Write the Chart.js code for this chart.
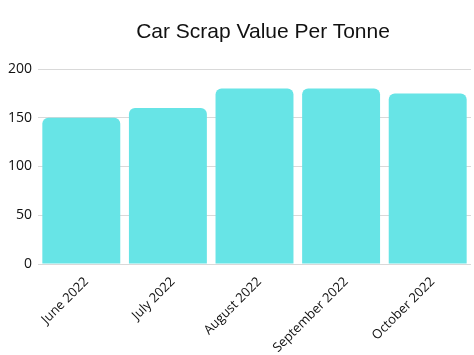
<!DOCTYPE html>
<html>
<head>
<meta charset="utf-8">
<script src="https://cdn.jsdelivr.net/npm/chart.js@4/dist/chart.umd.min.js"></script>
<style>
html,body{margin:0;padding:0;background:#fff;}
#wrap{position:relative;width:474px;height:355px;}
#title{position:absolute;left:0;top:17px;width:526px;text-align:center;font-family:"Liberation Sans",Arial,sans-serif;font-size:21px;color:#111;line-height:28px;}
canvas{position:absolute;left:0;top:0;}
</style>
</head>
<body>
<div id="wrap">
<canvas id="c" width="474" height="355"></canvas>
<div id="title">Car Scrap Value Per Tonne</div>
</div>
<script>
const categories = ["June 2022", "July 2022", "August 2022", "September 2022", "October 2022"];
const values = [150, 160, 180, 180, 175];
const yTicks = [0, 50, 100, 150, 200];

new Chart(document.getElementById('c'), {
  type: 'bar',
  data: {
    labels: categories,
    datasets: [{
      data: values,
      backgroundColor: '#67E4E6',
      borderRadius: {topLeft: 6, topRight: 6, bottomLeft: 0, bottomRight: 0},
      borderSkipped: false,
      categoryPercentage: 0.9,
      barPercentage: 1.0
    }]
  },
  options: {
    responsive: false,
    animation: false,
    layout: {padding: {top: 69, right: 3, left: 0, bottom: 0}},
    plugins: {legend: {display: false}, title: {display: false}, tooltip: {enabled: false}},
    scales: {
      x: {
        grid: {display: false},
        border: {display: false},
        ticks: {
          maxRotation: 45, minRotation: 45, autoSkip: false,
          color: '#111',
          font: {family: '"Open Sans", sans-serif', size: 13},
          padding: 2,
          labelOffset: 5
        },
        afterFit: s => { s.height = 91; }
      },
      y: {
        min: 0, max: 200,
        afterBuildTicks: s => { s.ticks = yTicks.map(v => ({value: v})); },
        grid: {color: '#d9d9d9', drawTicks: false},
        border: {display: false},
        ticks: {
          color: '#111',
          font: {family: '"Open Sans", sans-serif', size: 14},
          padding: 6
        },
        afterFit: s => { s.width = 38; }
      }
    }
  }
});
</script>
</body>
</html>
